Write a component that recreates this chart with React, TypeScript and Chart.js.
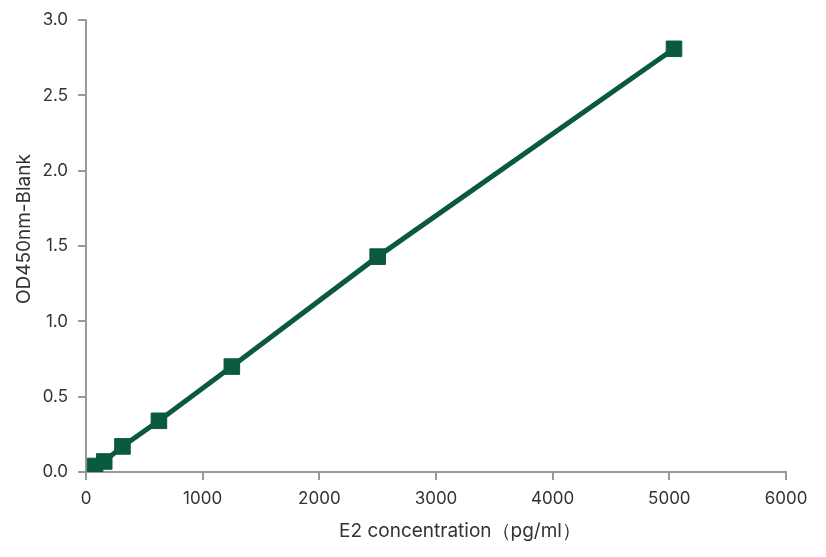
import React, { useEffect, useRef } from "react";
import { Chart, registerables } from "chart.js";

Chart.register(...registerables);

const concentrations = [78.125, 156.25, 312.5, 625, 1250, 2500, 5040];
const odValues = [0.04, 0.07, 0.17, 0.34, 0.7, 1.43, 2.81];
const xTitle = "E2 concentration（pg/ml）";
const yTitle = "OD450nm-Blank";

const GREEN = "#0a5a3e";
const AXIS = "#9a9a9a";
const TEXT = "#333333";
const FONT = "Inter, 'Noto Sans', sans-serif";

const axisTitlePlugin = {
  id: "axisTitles",
  afterDraw(chart: any) {
    const { ctx, chartArea } = chart;
    ctx.save();
    ctx.fillStyle = TEXT;
    ctx.font = `19px ${FONT}`;
    ctx.textAlign = "center";
    ctx.textBaseline = "middle";
    ctx.fillText(xTitle, (chartArea.left + chartArea.right) / 2 + 24, chartArea.bottom + 59);
    ctx.translate(chartArea.left - 62, (chartArea.top + chartArea.bottom) / 2 - 17);
    ctx.rotate(-Math.PI / 2);
    ctx.fillText(yTitle, 0, 0);
    ctx.restore();
  },
};

export default function App() {
  const ref = useRef<HTMLCanvasElement | null>(null);

  useEffect(() => {
    document.body.style.margin = "0";
    const ctx = ref.current;
    if (!ctx) return;
    const chart = new Chart(ctx, {
      type: "scatter",
      data: {
        datasets: [
          {
            data: concentrations.map((x, i) => ({ x, y: odValues[i] })),
            showLine: true,
            borderColor: GREEN,
            backgroundColor: GREEN,
            borderWidth: 5,
            pointStyle: "rect",
            pointRadius: 11,
            pointBorderWidth: 1,
            pointBorderColor: GREEN,
            pointBackgroundColor: GREEN,
            tension: 0,
          },
        ],
      },
      plugins: [axisTitlePlugin],
      options: {
        responsive: false,
        animation: false,
        layout: { padding: { top: 4, right: 40, left: 14, bottom: 12 } },
        plugins: { legend: { display: false }, tooltip: { enabled: false } },
        scales: {
          x: {
            type: "linear",
            min: 0,
            max: 6000,
            ticks: {
              stepSize: 1000,
              color: TEXT,
              padding: 9,
              font: { family: FONT, size: 17 },
              callback: (v: any) => String(v),
            },
            grid: {
              display: true,
              drawOnChartArea: false,
              drawTicks: true,
              tickLength: 8,
              color: AXIS,
              lineWidth: 2,
            },
            border: { display: true, color: AXIS, width: 2 },
            title: { display: false, text: xTitle },
            afterFit: (scale: any) => {
              scale.height = 73;
            },
          },
          y: {
            type: "linear",
            min: 0,
            max: 3,
            ticks: {
              stepSize: 0.5,
              color: TEXT,
              padding: 10,
              font: { family: FONT, size: 17 },
              callback: (v: any) => Number(v).toFixed(1),
            },
            grid: {
              display: true,
              drawOnChartArea: false,
              drawTicks: true,
              tickLength: 8,
              color: AXIS,
              lineWidth: 2,
            },
            border: { display: true, color: AXIS, width: 2 },
            title: { display: false, text: yTitle },
            afterFit: (scale: any) => {
              scale.width = 72;
            },
          },
        },
      },
    });
    return () => chart.destroy();
  }, []);

  return <canvas ref={ref} width={826} height={557} style={{ display: "block" }} />;
}
